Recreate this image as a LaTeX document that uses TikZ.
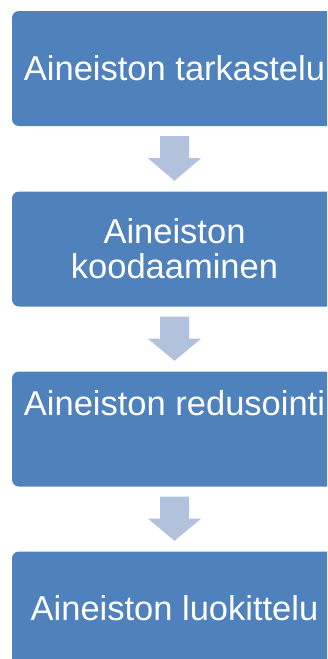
\documentclass[tikz,border=0pt]{standalone}
\usepackage{fontspec}
\setmainfont{Liberation Sans}
\usetikzlibrary{calc}
\definecolor{boxblue}{HTML}{4F81BD}
\definecolor{arrowblue}{HTML}{B2C1DC}
\tikzset{
  stagebox/.style={fill=boxblue, draw=none, rounded corners=7pt, minimum width=325pt, minimum height=115pt, inner sep=0pt},
  stagetext/.style={text=white, anchor=base, align=center, inner sep=0pt, font=\fontsize{34.5}{35}\selectfont},
  arrowfill/.style={fill=arrowblue, draw=none}
}
\begin{document}
\begin{tikzpicture}[x=1pt,y=-1pt]
\useasboundingbox (0,0) rectangle (327,659);
\clip (0,0) rectangle (327,659);
\node[stagebox] (b1) at (174.5,68.5) {};
\node[stagebox] (b2) at (174.5,249) {};
\node[stagebox] (b3) at (174.5,429) {};
\node[stagebox] (b4) at (174.5,609) {};
\node[stagetext] (t1) at (174.5,80) {Aineiston tarkastelu};
\node[stagetext] (t2) at (174.5,278) {Aineiston\\koodaaminen};
\node[stagetext] (t3) at (174.5,415) {Aineiston redusointi};
\node[stagetext] (t4) at (174.5,620) {Aineiston luokittelu};
\foreach \a/\b in {b1/b2, b2/b3, b3/b4}{
  \fill[arrowfill] ($(\a.south)+(-14.5,10)$) -- ($(\a.south)+(14.5,10)$) -- ($(\a.south)+(14.5,32)$) -- ($(\a.south)+(26.5,32)$) -- ($(\b.north)+(0,-10.5)$) -- ($(\a.south)+(-26.5,32)$) -- ($(\a.south)+(-14.5,32)$) -- cycle;
}
\end{tikzpicture}
\end{document}
